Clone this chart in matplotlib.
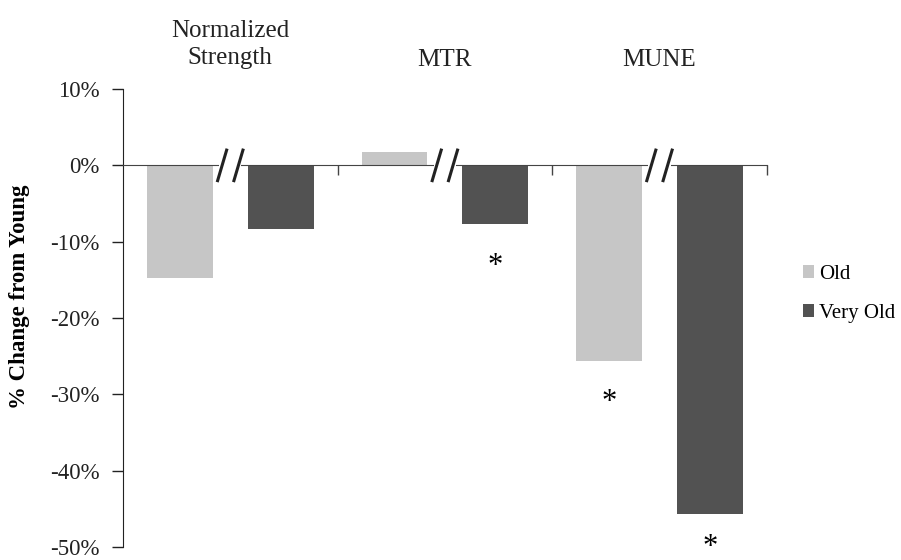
import matplotlib
matplotlib.use("Agg")
import numpy as np
import matplotlib.pyplot as plt
from matplotlib.ticker import FuncFormatter

plt.rcParams["font.family"] = ["Liberation Serif", "DejaVu Serif"]

# data (percent change from young)
categories = ["Normalized\nStrength", "MTR", "MUNE"]
old = [-14.7, 1.7, -25.6]
very_old = [-8.4, -7.7, -45.7]
# which bars carry a significance asterisk
star_old = [False, False, True]
star_very_old = [False, True, True]

light = "#c6c6c6"
dark = "#525252"

fig = plt.figure(figsize=(9.01, 5.6), dpi=100)
ax = fig.add_axes([0.1365, 0.0232, 0.7145, 0.8178])

x = np.arange(len(categories)) + 0.5
off = 0.235
w = 0.307
ax.bar(x - off, old, w, color=light, label="Old", zorder=1)
ax.bar(x + off, very_old, w, color=dark, label="Very Old", zorder=1)

ax.set_xlim(0, 3)
ax.set_ylim(-50, 10)
ax.set_yticks(np.arange(-50, 11, 10))
ax.yaxis.set_major_formatter(FuncFormatter(lambda v, p: "%d%%" % v))
ax.tick_params(axis="y", length=8, width=1, pad=9, labelsize=16.5, colors="#222222")

for s in ["top", "right"]:
    ax.spines[s].set_visible(False)
ax.spines["left"].set_color("#222222")
ax.spines["bottom"].set_position(("data", 0))
ax.spines["bottom"].set_color("#444444")
ax.set_xticks([1, 2, 3])
ax.set_xticklabels([])
ax.tick_params(axis="x", direction="out", length=7, width=1, colors="#444444")

# axis breaks "//" in the zero line
for c in x:
    ax.plot([c - 0.052, c + 0.052], [0, 0], color="white", lw=3, zorder=3,
            solid_capstyle="butt", clip_on=False)
    for d in (-0.038, 0.038):
        ax.plot([c + d - 0.021, c + d + 0.021], [-2.0, 2.0], color="#222222",
                lw=2.2, zorder=4, clip_on=False)

# asterisks
for i in range(len(categories)):
    if star_old[i]:
        ax.text(x[i] - off, old[i] - 5.5, "*", ha="center", va="center",
                fontsize=22, clip_on=False)
    if star_very_old[i]:
        dy = 5.5 if very_old[i] > -40 else 4.4
        ax.text(x[i] + off, very_old[i] - dy, "*", ha="center", va="center",
                fontsize=22, clip_on=False)

# column titles
tr = ax.get_xaxis_transform()
for i, name in enumerate(categories):
    yy = 1.098 if "\n" in name else 1.063
    ax.text(x[i], yy, name, transform=tr, ha="center", va="center",
            fontsize=18, linespacing=1.28, color="#222222")

fig.text(20 / 901, 1 - 297 / 560, "% Change from Young", rotation=90,
         ha="center", va="center", fontsize=16.5, fontweight="bold")

ax.legend(loc="upper left", bbox_to_anchor=(803 / 901, 1 - 265 / 560),
          bbox_transform=fig.transFigure, frameon=False, fontsize=15,
          handlelength=0.55, handleheight=0.55, handletextpad=0.2,
          labelspacing=0.95, borderpad=0, borderaxespad=0)

fig.savefig("out.png", dpi=100)
